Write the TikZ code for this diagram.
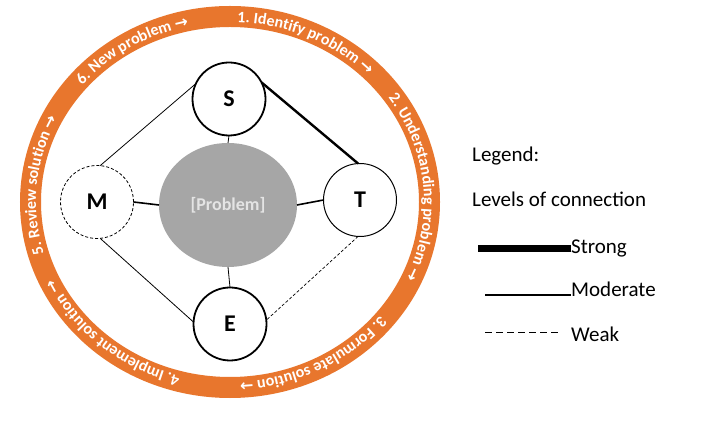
\documentclass[tikz,border=0pt]{standalone}
\usepackage{fontspec}
\setmainfont{Carlito}
\newfontfamily\arrowfont{DejaVu Sans}
\usepackage{xcolor}
\usepackage{tikz}
\usetikzlibrary{shapes.geometric, decorations.text}

\definecolor{ringorange}{RGB}{232,118,45}
\definecolor{probgray}{RGB}{166,166,166}
\definecolor{problabel}{RGB}{228,228,228}

\begin{document}
\begin{tikzpicture}[
    x=1pt, y=1pt,
    letter/.style={draw, circle, minimum size=73pt, inner sep=0pt, outer sep=0pt, fill=white, font=\fontsize{24}{26}\selectfont\bfseries},
    probnode/.style={ellipse, fill=probgray, minimum width=138pt, minimum height=124pt, inner sep=0pt, outer sep=0pt, text=problabel, font=\fontsize{18}{20}\selectfont\bfseries},
    ring/.style={draw=ringorange, line width=21pt},
    ringtext/.style={decorate, decoration={text along path, text align=center, text={|\fontsize{16}{17}\selectfont\bfseries\color{white}|#1}}},
    legendtext/.style={anchor=base west, inner sep=0pt, font=\fontsize{21}{23}\selectfont},
    thinlink/.style={line width=0.8pt},
    strongline/.style={line width=2.4pt},
    moderateline/.style={line width=1.6pt},
    weakline/.style={line width=0.7pt, dash pattern=on 3pt off 2pt}
]

\fill[white] (0,0) rectangle (711,425);
\useasboundingbox (0,0) rectangle (711,425);

% Cycle ring
\coordinate (ringc) at (230,223);
\draw[ring] (ringc) ellipse [x radius=199.5, y radius=185.5];
\path[ringtext={1. Identify problem |\arrowfont\bfseries\fontsize{16}{17}\selectfont\color{white}|→}] (ringc) ++(98:194 and 180) arc[start angle=98, end angle=34, x radius=194, y radius=180];
\path[ringtext={2. Understanding problem |\arrowfont\bfseries\fontsize{16}{17}\selectfont\color{white}|→}] (ringc) ++(40:194 and 180) arc[start angle=40, end angle=-30, x radius=194, y radius=180];
\path[ringtext={3. Formulate solution |\arrowfont\bfseries\fontsize{16}{17}\selectfont\color{white}|→}] (ringc) ++(-32:194 and 180) arc[start angle=-32, end angle=-94, x radius=194, y radius=180];
\path[ringtext={4. Implement solution |\arrowfont\bfseries\fontsize{16}{17}\selectfont\color{white}|→}] (ringc) ++(-99:194 and 180) arc[start angle=-99, end angle=-161, x radius=194, y radius=180];
\path[ringtext={5. Review solution |\arrowfont\bfseries\fontsize{16}{17}\selectfont\color{white}|→}] (ringc) ++(202:194 and 180) arc[start angle=202, end angle=147, x radius=194, y radius=180];
\path[ringtext={6. New problem |\arrowfont\bfseries\fontsize{16}{17}\selectfont\color{white}|→}] (ringc) ++(146:194 and 180) arc[start angle=146, end angle=96, x radius=194, y radius=180];

% Nodes
\node[probnode] (problem) at (228,220) {[Problem]};
\node[letter, line width=1.8pt] (S) at (229,326) {S};
\node[letter, line width=1pt] (T) at (360,225) {T};
\node[letter, line width=0.8pt, dash pattern=on 3pt off 2pt] (M) at (97,223) {M};
\node[letter, line width=1.8pt] (E) at (230,101) {E};

% Connections
\draw[thinlink] (S.155) -- (M.85);
\draw[strongline] (S.27) -- (T.93);
\draw[thinlink] (S.south) -- (problem.north);
\draw[moderateline] (M.east) -- (problem.west);
\draw[moderateline] (problem.east) -- (T.west);
\draw[thinlink] (problem.south) -- (E.north);
\draw[thinlink] (M.275) -- (E.177);
\draw[weakline] (T.267) -- (E.6);

% Legend
\node[legendtext] (legendtitle) at (472,263) {Legend:};
\node[legendtext] (levels) at (472,218) {Levels of connection};
\node[legendtext] (strongtext) at (571,171) {Strong};
\node[legendtext] (moderatetext) at (571,128) {Moderate};
\node[legendtext] (weaktext) at (571,83) {Weak};
\coordinate (strongstart) at (478,176);
\coordinate (moderatestart) at (485,130);
\coordinate (weakstart) at (485,93);
\coordinate (weakend) at (559,93);
\draw[line width=7pt] (strongstart) -- (strongstart -| strongtext.west);
\draw[line width=1.8pt] (moderatestart) -- (moderatestart -| moderatetext.west);
\draw[line width=0.9pt, dash pattern=on 7pt off 4pt] (weakstart) -- (weakend);

\end{tikzpicture}
\end{document}
